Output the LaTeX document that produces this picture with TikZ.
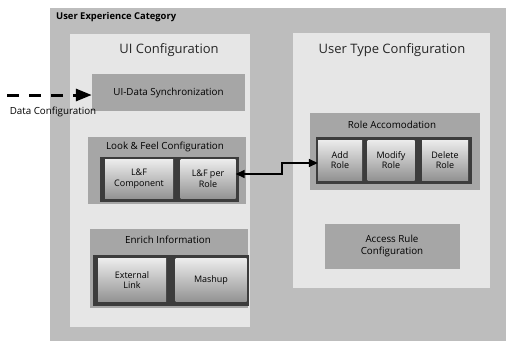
\documentclass[tikz,border=0pt]{standalone}
\usepackage{fontspec}
\setmainfont{Open Sans}
\usetikzlibrary{arrows.meta}
\definecolor{outerbg}{HTML}{BDBDBD}
\definecolor{panelbg}{HTML}{E6E6E6}
\definecolor{groupbg}{HTML}{A6A6A6}
\definecolor{framebg}{HTML}{3C3C3C}
\tikzset{
  outerbox/.style={fill=outerbg, draw=none},
  panel/.style={fill=panelbg, draw=none},
  groupbox/.style={fill=groupbg, draw=none},
  frame/.style={fill=framebg, draw=none},
  subbox/.style={top color=gray!15, bottom color=gray!85, draw=none,
    align=center, font=\fontsize{9}{10.5}\selectfont, inner sep=1pt},
  grouptitle/.style={font=\fontsize{9.8}{11.5}\selectfont, align=center},
  paneltitle/.style={font=\fontsize{13}{15}\selectfont, text=black!85},
  bigtip/.tip={Triangle[length=9pt,width=8pt]},
}
\begin{document}
\begin{tikzpicture}[x=1pt, y=-1pt]
\useasboundingbox (0,0) rectangle (509,343);
\fill[white] (0,0) rectangle (509,343);

% outer category
\path[outerbox] (50,8) rectangle (506,341);
\node[anchor=west, font=\bfseries\fontsize{9.4}{11}\selectfont, inner sep=0pt] (cat) at (56,17) {User Experience Category};

% panels
\path[panel] (70,34) rectangle (250,327);
\node[paneltitle] (uititle) at (169,50) {UI Configuration};
\path[panel] (293,33) rectangle (490,288);
\node[paneltitle] (uttitle) at (392,50) {User Type Configuration};

% UI-Data Synchronization
\node[groupbox, grouptitle, minimum width=153pt, minimum height=37pt] (sync) at (168.5,92.5) {UI-Data Synchronization};

% Look & Feel Configuration
\path[groupbox] (88,137) rectangle (246,204);
\node[grouptitle] (lftitle) at (165,147) {Look \& Feel Configuration};
\path[frame] (100,157) rectangle (239,202);
\node[subbox, minimum width=68pt, minimum height=39pt] (lfcomp) at (139,179) {L\&F\\Component};
\node[subbox, minimum width=55pt, minimum height=39pt] (lfrole) at (208,179) {L\&F per\\Role};

% Enrich Information
\path[groupbox] (90,229) rectangle (248,308);
\node[grouptitle] (entitle) at (168,240) {Enrich Information};
\path[frame] (93,255) rectangle (249,306);
\node[subbox, minimum width=68pt, minimum height=43pt] (extlink) at (132,280) {External\\Link};
\node[subbox, minimum width=71pt, minimum height=43pt] (mashup) at (211,280) {Mashup};

% Role Accomodation
\path[groupbox] (310,113) rectangle (480,190);
\node[grouptitle] (ratitle) at (392,125) {Role Accomodation};
\path[frame] (316,137) rectangle (472,184);
\node[subbox, minimum width=44pt, minimum height=40pt] (addrole) at (340,160) {Add\\Role};
\node[subbox, minimum width=47pt, minimum height=40pt] (modrole) at (391,160) {Modify\\Role};
\node[subbox, minimum width=46pt, minimum height=40pt] (delrole) at (445,160) {Delete\\Role};

% Access Rule Configuration
\node[groupbox, grouptitle, minimum width=135pt, minimum height=45pt] (access) at (392,246) {Access Rule\\Configuration};

% incoming data configuration
\coordinate (datain) at (7,95);
\draw[line width=3pt, dash pattern=on 12pt off 10pt,
  -{Triangle[length=16pt,width=12pt]}] (datain) -- (sync.west |- 0,95);
\node[font=\fontsize{9.8}{11}\selectfont, inner sep=0pt] (datalabel) at (53,112) {Data Configuration};

% link between role styling and role accommodation
\draw[line width=1.5pt, {bigtip}-{bigtip}]
  (lfrole.east |- 0,174) -| (282,163) -- (addrole.west |- 0,163);
\end{tikzpicture}
\end{document}
